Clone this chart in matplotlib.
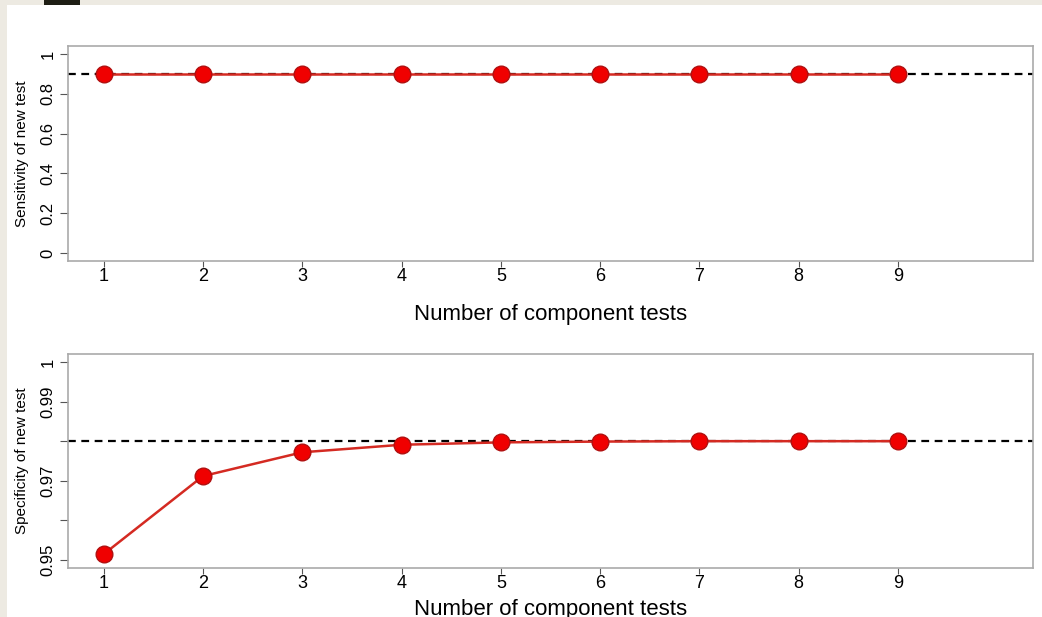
import matplotlib
matplotlib.use('Agg')
import matplotlib.pyplot as plt
from matplotlib.patches import Rectangle

plt.rcParams['font.family'] = ['Liberation Sans', 'DejaVu Sans']

# data
n_tests = [1, 2, 3, 4, 5, 6, 7, 8, 9]
sensitivity = [0.9, 0.9, 0.9, 0.9, 0.9, 0.9, 0.9, 0.9, 0.9]
specificity = [0.9515, 0.9712, 0.9772, 0.9791, 0.9797, 0.9799, 0.98, 0.98, 0.98]
sens_ref = 0.9
spec_ref = 0.98

sens_ticks = [0, 0.2, 0.4, 0.6, 0.8, 1]
sens_labels = ['0', '0.2', '0.4', '0.6', '0.8', '1']
spec_ticks = [0.95, 0.96, 0.97, 0.98, 0.99, 1]
spec_labels = ['0.95', '', '0.97', '', '0.99', '1']

fig = plt.figure(figsize=(10.42, 6.17), dpi=100)
fig.patch.set_facecolor('#edeae2')
# white page + dark tab at top
fig.add_artist(Rectangle((7/1042, 0), 1, 1 - 5/617, transform=fig.transFigure,
                         facecolor='white', edgecolor='none', zorder=-10))
fig.add_artist(Rectangle((44/1042, 1 - 5/617), 36/1042, 5/617, transform=fig.transFigure,
                         facecolor='#1e1e14', edgecolor='none', zorder=-10))

ax1 = fig.add_axes([68/1042, 1 - 261/617, 965/1042, 215/617])
ax2 = fig.add_axes([68/1042, 1 - 568/617, 965/1042, 214/617])

panels = [
    (ax1, sensitivity, sens_ref, sens_ticks, sens_labels, 0, 1, 'Sensitivity of new test', 14),
    (ax2, specificity, spec_ref, spec_ticks, spec_labels, 0.95, 1, 'Specificity of new test', 5),
]

for ax, vals, ref, yt, yl, lo, hi, lab, xpad in panels:
    ax.axhline(ref, color='black', linestyle=(0, (3.5, 2.5)), linewidth=1.6, zorder=1)
    ax.plot(n_tests, vals, color='#d42a22', linewidth=1.8, marker='o', markersize=12,
            markerfacecolor='#f00000', markeredgecolor='#b01010', markeredgewidth=1, zorder=3)
    pad = (hi - lo) * 0.04
    ax.set_ylim(lo - pad, hi + pad)
    ax.set_xlim(0.64, 10.36)
    ax.set_xticks(n_tests)
    ax.set_yticks(yt)
    ax.set_yticklabels(yl, rotation=90, va='center')
    ax.tick_params(axis='y', length=6, width=0.8, color='#555555', labelsize=12, pad=3)
    ax.tick_params(axis='x', length=4, width=0.8, color='#555555', labelsize=13, pad=1)
    for s in ax.spines.values():
        s.set_color('#aaaaaa')
        s.set_linewidth(1.2)
    ax.set_ylabel(lab, fontsize=11, labelpad=8)
    ax.set_xlabel('Number of component tests', fontsize=16, labelpad=xpad)

plt.savefig('out.png', dpi=100)
